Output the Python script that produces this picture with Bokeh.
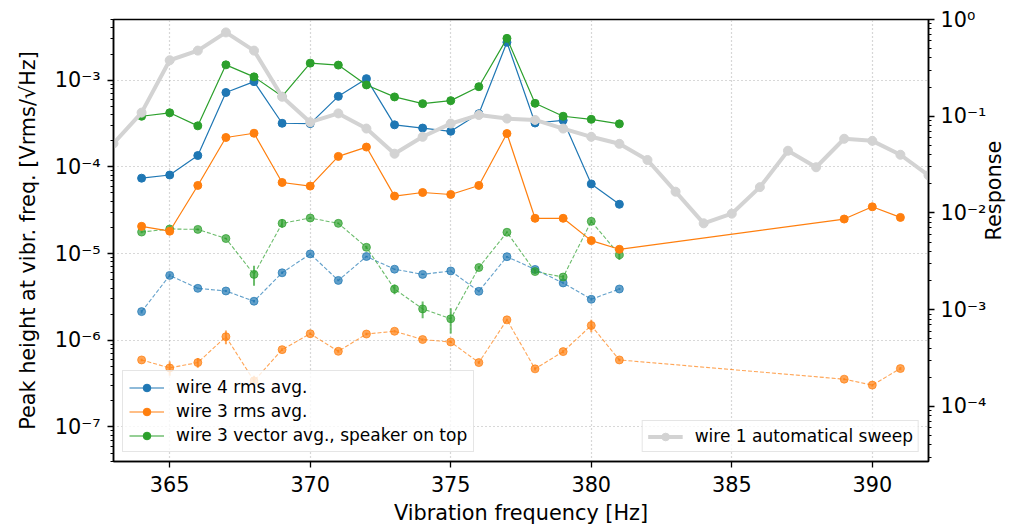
import math
import numpy as np
from bokeh.plotting import figure
from bokeh.models import (Range1d, LogScale, LogAxis, FixedTicker, CustomJSTickFormatter,
                          Legend, LegendItem)
from bokeh.embed import file_html
from bokeh.resources import INLINE

# ---------------- data ----------------
freq_a = [364, 365, 366, 367, 368, 369, 370, 371, 372, 373, 374, 375, 376, 377, 378, 379, 380, 381]
freq_b = freq_a + [389, 390, 391]
freq_sweep = list(range(363, 393))

wire4_rms = [7.4e-5, 8.05e-5, 1.35e-4, 7.2e-4, 9.6e-4, 3.18e-4, 3.15e-4, 6.5e-4, 1.04e-3,
             3.05e-4, 2.8e-4, 2.57e-4, 4.1e-4, 2.73e-3, 3.2e-4, 3.44e-4, 6.35e-5, 3.7e-5]
wire3_rms = [2.06e-5, 1.81e-5, 6.1e-5, 2.18e-4, 2.44e-4, 6.6e-5, 6.0e-5, 1.32e-4, 1.69e-4,
             4.6e-5, 5.06e-5, 4.8e-5, 6.1e-5, 2.42e-4, 2.55e-5, 2.55e-5, 1.41e-5, 1.12e-5,
             2.5e-5, 3.46e-5, 2.61e-5]
wire3_vec = [3.83e-4, 4.2e-4, 2.97e-4, 1.5e-3, 1.09e-3, 6.5e-4, 1.57e-3, 1.49e-3, 8.8e-4,
             6.4e-4, 5.35e-4, 5.8e-4, 8.4e-4, 3.03e-3, 5.4e-4, 3.83e-4, 3.53e-4, 3.13e-4]

wire4_rms_b = [2.14e-6, 5.6e-6, 3.97e-6, 3.7e-6, 2.82e-6, 6.0e-6, 9.9e-6, 4.9e-6, 9.25e-6,
               6.6e-6, 5.75e-6, 6.3e-6, 3.67e-6, 9.2e-6, 6.56e-6, 4.58e-6, 2.97e-6, 3.9e-6]
wire4_rms_b_err = [1e-7, 2e-7, 1e-7, 1e-7, 1e-7, 2e-7, 2e-7, 1e-7, 2e-7,
                   1e-7, 1e-7, 1e-7, 1e-7, 2e-7, 1e-7, 1e-7, 1e-7, 1e-7]
wire3_rms_b = [5.93e-7, 4.8e-7, 5.53e-7, 1.1e-6, 3.4e-7, 7.8e-7, 1.19e-6, 7.46e-7, 1.18e-6,
               1.27e-6, 1.02e-6, 9.55e-7, 5.53e-7, 1.72e-6, 4.68e-7, 7.4e-7, 1.48e-6, 5.93e-7,
               3.56e-7, 3.04e-7, 4.72e-7]
wire3_rms_b_err = [2e-8, 9e-8, 7e-8, 2e-7, 5e-8, 3e-8, 4e-8, 3e-8, 4e-8,
                   4e-8, 3e-8, 3e-8, 2e-8, 5e-8, 2e-8, 3e-8, 2.4e-7, 2e-8,
                   1e-8, 1e-8, 2e-8]
wire3_vec_b = [1.77e-5, 1.92e-5, 1.9e-5, 1.49e-5, 5.75e-6, 2.23e-5, 2.57e-5, 2.23e-5, 1.18e-5,
               3.9e-6, 2.3e-6, 1.77e-6, 6.9e-6, 1.76e-5, 6.2e-6, 5.36e-6, 2.35e-5, 9.7e-6]
wire3_vec_b_err = [5e-7, 1.5e-6, 5e-7, 3e-7, 1.5e-6, 2.5e-6, 5e-7, 5e-7, 5e-7,
                   5e-7, 5e-7, 5.7e-7, 3e-7, 5e-7, 3e-7, 3e-7, 1e-6, 1.3e-6]

sweep = [0.0523, 0.109, 0.379, 0.477, 0.735, 0.477, 0.159, 0.0868, 0.107, 0.0746,
         0.041, 0.0613, 0.084, 0.103, 0.0946, 0.0916, 0.0746, 0.0613, 0.0519, 0.0353,
         0.0166, 0.00782, 0.00984, 0.0185, 0.044, 0.0297, 0.0585, 0.0557, 0.04, 0.0245]

x_ticks = [365, 370, 375, 380, 385, 390]
left_ticks = [1e-7, 1e-6, 1e-5, 1e-4, 1e-3]
right_ticks = [1e-4, 1e-3, 1e-2, 1e-1, 1e0]

BLUE, ORANGE, GREEN, GRAY = "#1f77b4", "#ff7f0e", "#2ca02c", "#d3d3d3"
FONT = "DejaVu Sans"

# ---------------- figure ----------------
p = figure(width=1023, height=527, x_range=Range1d(363, 392), y_range=Range1d(4e-8, 5e-3),
           y_axis_type="log", output_backend="svg", toolbar_location=None,
           min_border_left=113, min_border_right=95, min_border_top=19, min_border_bottom=63)
p.extra_y_ranges = {"resp": Range1d(2.7e-5, 1.0)}
p.extra_y_scales = {"resp": LogScale()}
ax2 = LogAxis(y_range_name="resp", axis_label="Response")
p.add_layout(ax2, "right")

sup_code = """
const e = Math.round(Math.log10(tick));
const sup = {'-':'\u207b','0':'\u2070','1':'\u00b9','2':'\u00b2','3':'\u00b3','4':'\u2074',
             '5':'\u2075','6':'\u2076','7':'\u2077','8':'\u2078','9':'\u2079'};
return '10' + String(e).split('').map(c => sup[c]).join('');
"""

def minors(lo, hi):
    out = []
    for d in range(lo, hi):
        for k in range(2, 10):
            out.append(k * 10.0 ** d)
    return out

p.yaxis[0].ticker = FixedTicker(ticks=left_ticks, minor_ticks=minors(-8, -2))
p.yaxis[0].formatter = CustomJSTickFormatter(code=sup_code)
ax2.ticker = FixedTicker(ticks=right_ticks, minor_ticks=minors(-5, 0))
ax2.formatter = CustomJSTickFormatter(code=sup_code)
p.xaxis[0].ticker = FixedTicker(ticks=x_ticks)

p.xaxis.axis_label = "Vibration frequency [Hz]"
p.yaxis[0].axis_label = "Peak height at vibr. freq. [Vrms/\u221aHz]"

for ax in [p.xaxis[0], p.yaxis[0], ax2]:
    ax.axis_label_text_font = FONT
    ax.axis_label_text_font_style = "normal"
    ax.axis_label_text_font_size = "20.8px"
    ax.major_label_text_font = FONT
    ax.major_label_text_font_size = "20.8px"
    ax.major_label_text_color = "black"
    ax.axis_label_text_color = "black"
    ax.axis_line_color = "black"
    ax.axis_line_width = 1.5
    ax.major_tick_line_color = "black"
    ax.major_tick_line_width = 1.3
    ax.major_tick_out = 6
    ax.major_tick_in = 0
    ax.minor_tick_line_color = "black"
    ax.minor_tick_line_width = 1
    ax.minor_tick_out = 3
    ax.minor_tick_in = 0
    ax.axis_label_standoff = 8
    ax.major_label_standoff = 7
p.xaxis[0].minor_tick_line_color = None
p.xaxis[0].major_label_standoff = 8
p.xaxis[0].axis_label_standoff = 6
p.yaxis[0].axis_label_standoff = 12
ax2.major_label_standoff = 6
ax2.axis_label_standoff = 5
ax2.axis_label_orientation = math.pi / 2

p.outline_line_color = "black"
p.outline_line_width = 1.5
p.xgrid.grid_line_color = "#b0b0b0"
p.ygrid.grid_line_color = "#b0b0b0"
p.xgrid.grid_line_dash = "1 3"
p.ygrid.grid_line_dash = "1 3"
p.xgrid.grid_line_width = 1.2
p.ygrid.grid_line_width = 1.2
p.background_fill_color = "white"
p.border_fill_color = "white"

# ---------------- dashed (second) series ----------------
def dashed(x, y, e, c):
    x = np.array(x, float); y = np.array(y, float); e = np.array(e, float)
    p.line(x, y, color=c, line_width=1.1, line_dash="4 2", alpha=0.7)
    p.segment(x, y - e, x, y + e, color=c, line_width=2, alpha=0.7)
    p.scatter(x, y, size=8, color=c, alpha=0.7)

dashed(freq_a, wire4_rms_b, wire4_rms_b_err, BLUE)
dashed(freq_b, wire3_rms_b, wire3_rms_b_err, ORANGE)
dashed(freq_a, wire3_vec_b, wire3_vec_b_err, GREEN)

# ---------------- solid series ----------------
def solid(x, y, c):
    l = p.line(x, y, color=c, line_width=1.2)
    s = p.scatter(x, y, size=8, color=c)
    return [l, s]

r_w4 = solid(freq_a, wire4_rms, BLUE)
r_w3 = solid(freq_b, wire3_rms, ORANGE)
r_vec = solid(freq_a, wire3_vec, GREEN)

# ---------------- sweep (right axis) ----------------
gl = p.line(freq_sweep, sweep, color=GRAY, line_width=4, y_range_name="resp")
gs = p.scatter(freq_sweep, sweep, size=9, color=GRAY, y_range_name="resp")

def mk_legend(items, loc):
    lg = Legend(items=items, location=loc)
    lg.label_text_font = FONT
    lg.label_text_font_size = "17px"
    lg.label_text_color = "black"
    lg.label_height = 19
    lg.glyph_width = 35
    lg.glyph_height = 19
    lg.label_standoff = 12
    lg.spacing = 4
    lg.padding = 6
    lg.margin = 9
    lg.border_line_color = "#cccccc"
    lg.border_line_width = 1.5
    lg.background_fill_alpha = 0.8
    return lg

leg1 = mk_legend([LegendItem(label="wire 4 rms avg.", renderers=r_w4),
                  LegendItem(label="wire 3 rms avg.", renderers=r_w3),
                  LegendItem(label="wire 3 vector avg., speaker on top", renderers=r_vec)],
                 "bottom_left")
leg2 = mk_legend([LegendItem(label="wire 1 automatical sweep", renderers=[gl, gs])],
                 "bottom_right")
leg2.padding = 5
p.add_layout(leg1, "center")
p.add_layout(leg2, "center")

open("out.html", "w").write(file_html(p, INLINE))
